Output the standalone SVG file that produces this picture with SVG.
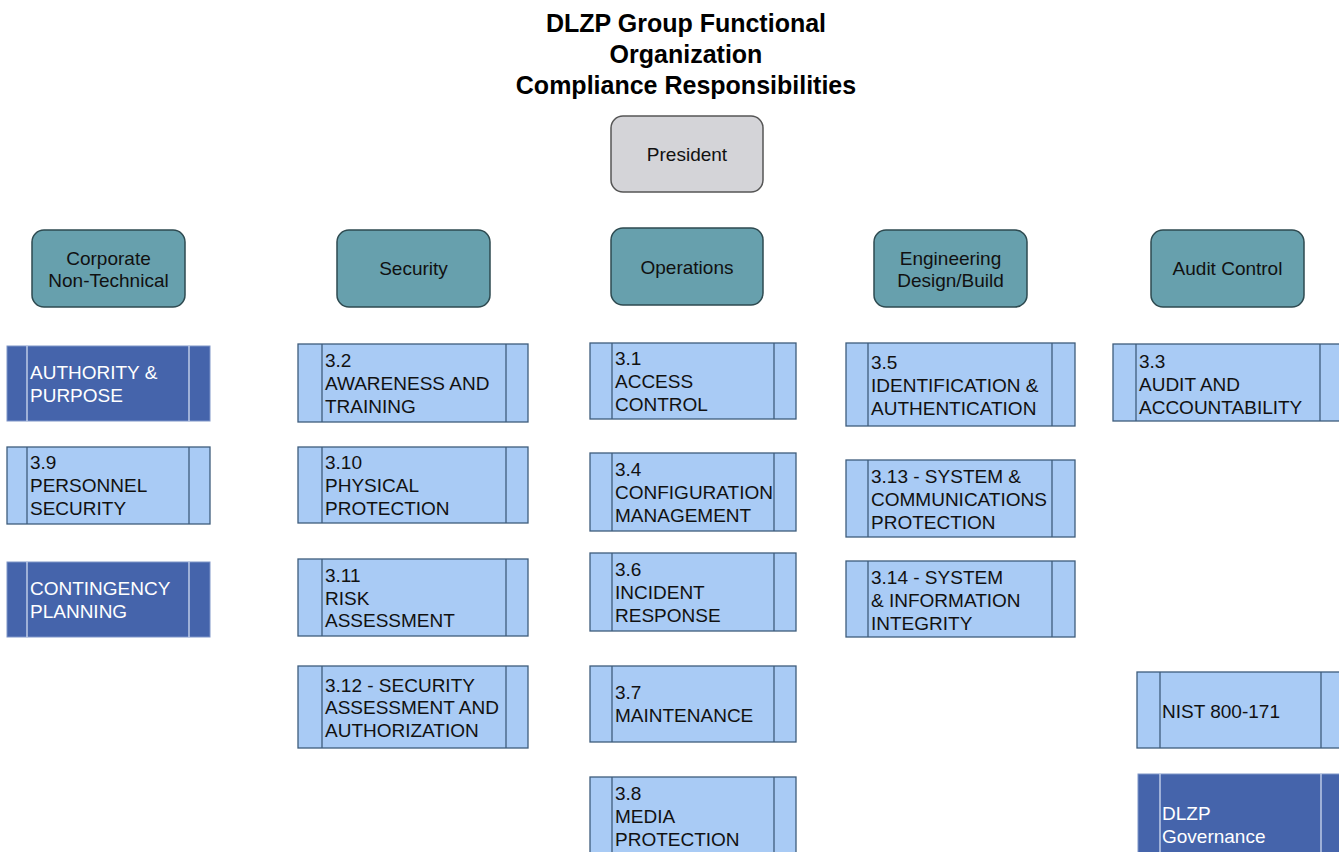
<svg xmlns="http://www.w3.org/2000/svg" width="1339" height="852" viewBox="0 0 1339 852">
<style>
text{font-family:"Liberation Sans",Arial,Helvetica,sans-serif;font-size:19px;fill:#111;}
.title{font-size:25px;font-weight:bold;text-anchor:middle;fill:#000;}
.hdr{fill:#67A0AD;stroke:#2E4A50;stroke-width:1.5;}
.pres{fill:#D4D4D8;stroke:#555;stroke-width:1.5;}
.c{text-anchor:middle;}
.lb{fill:#A9CBF5;stroke:#3E5C7C;stroke-width:1.3;}
.lbl{stroke:#3E5C7C;stroke-width:1.3;}
.db{fill:#4564AB;stroke:#7F95C8;stroke-width:1;}
.dbl{stroke:#D0DAF0;stroke-width:1.3;}
.w{fill:#fff;}
</style>
<rect width="1339" height="852" fill="#fff"/>
<g id="title">
<text class="title" x="686" y="32">DLZP Group Functional</text>
<text class="title" x="686" y="63">Organization</text>
<text class="title" x="686" y="94">Compliance Responsibilities</text>
</g>
<g id="connectors"></g>
<g id="president">
<rect class="pres" x="611" y="116" width="152" height="76" rx="12"/>
<text class="c" x="687" y="161">President</text>
</g>
<g id="corporate">
<rect class="hdr" x="32" y="230" width="153" height="77" rx="12"/>
<text class="c" x="108.5" y="265">Corporate</text>
<text class="c" x="108.5" y="287">Non-Technical</text>
</g>
<g id="security">
<rect class="hdr" x="337" y="230" width="153" height="77" rx="12"/>
<text class="c" x="413.5" y="275">Security</text>
</g>
<g id="operations">
<rect class="hdr" x="611" y="228" width="152" height="77" rx="12"/>
<text class="c" x="687" y="274">Operations</text>
</g>
<g id="engineering">
<rect class="hdr" x="874" y="230" width="153" height="77" rx="12"/>
<text class="c" x="950.5" y="265">Engineering</text>
<text class="c" x="950.5" y="287">Design/Build</text>
</g>
<g id="audit">
<rect class="hdr" x="1151" y="230" width="153" height="77" rx="12"/>
<text class="c" x="1227.5" y="275">Audit Control</text>
</g>

<!-- Corporate column -->
<g id="authority">
<rect class="db" x="7" y="346" width="203" height="75"/>
<line class="dbl" x1="27" y1="346" x2="27" y2="421"/><line class="dbl" x1="189" y1="346" x2="189" y2="421"/>
<text class="w" x="30" y="379">AUTHORITY &amp;</text>
<text class="w" x="30" y="402">PURPOSE</text>
</g>
<g id="n3-9">
<rect class="lb" x="7" y="447" width="203" height="77"/>
<line class="lbl" x1="27" y1="447" x2="27" y2="524"/><line class="lbl" x1="189" y1="447" x2="189" y2="524"/>
<text x="30" y="469">3.9</text>
<text x="30" y="492">PERSONNEL</text>
<text x="30" y="515">SECURITY</text>
</g>
<g id="contingency">
<rect class="db" x="7" y="562" width="203" height="75"/>
<line class="dbl" x1="27" y1="562" x2="27" y2="637"/><line class="dbl" x1="189" y1="562" x2="189" y2="637"/>
<text class="w" x="30" y="595">CONTINGENCY</text>
<text class="w" x="30" y="618">PLANNING</text>
</g>

<!-- Security column -->
<g id="n3-2">
<rect class="lb" x="298" y="344" width="230" height="78"/>
<line class="lbl" x1="322" y1="344" x2="322" y2="422"/><line class="lbl" x1="506" y1="344" x2="506" y2="422"/>
<text x="325" y="367">3.2</text>
<text x="325" y="390">AWARENESS AND</text>
<text x="325" y="413">TRAINING</text>
</g>
<g id="n3-10">
<rect class="lb" x="298" y="447" width="230" height="76"/>
<line class="lbl" x1="322" y1="447" x2="322" y2="523"/><line class="lbl" x1="506" y1="447" x2="506" y2="523"/>
<text x="325" y="469">3.10</text>
<text x="325" y="492">PHYSICAL</text>
<text x="325" y="515">PROTECTION</text>
</g>
<g id="n3-11">
<rect class="lb" x="298" y="559" width="230" height="77"/>
<line class="lbl" x1="322" y1="559" x2="322" y2="636"/><line class="lbl" x1="506" y1="559" x2="506" y2="636"/>
<text x="325" y="582">3.11</text>
<text x="325" y="605">RISK</text>
<text x="325" y="627">ASSESSMENT</text>
</g>
<g id="n3-12">
<rect class="lb" x="298" y="666" width="230" height="82"/>
<line class="lbl" x1="322" y1="666" x2="322" y2="748"/><line class="lbl" x1="506" y1="666" x2="506" y2="748"/>
<text x="325" y="692">3.12 - SECURITY</text>
<text x="325" y="714">ASSESSMENT AND</text>
<text x="325" y="737">AUTHORIZATION</text>
</g>

<!-- Operations column -->
<g id="n3-1">
<rect class="lb" x="590" y="343" width="206" height="76"/>
<line class="lbl" x1="612" y1="343" x2="612" y2="419"/><line class="lbl" x1="774" y1="343" x2="774" y2="419"/>
<text x="615" y="365">3.1</text>
<text x="615" y="388">ACCESS</text>
<text x="615" y="411">CONTROL</text>
</g>
<g id="n3-4">
<rect class="lb" x="590" y="453" width="206" height="78"/>
<line class="lbl" x1="612" y1="453" x2="612" y2="531"/><line class="lbl" x1="774" y1="453" x2="774" y2="531"/>
<text x="615" y="476">3.4</text>
<text x="615" y="499">CONFIGURATION</text>
<text x="615" y="522">MANAGEMENT</text>
</g>
<g id="n3-6">
<rect class="lb" x="590" y="553" width="206" height="78"/>
<line class="lbl" x1="612" y1="553" x2="612" y2="631"/><line class="lbl" x1="774" y1="553" x2="774" y2="631"/>
<text x="615" y="576">3.6</text>
<text x="615" y="599">INCIDENT</text>
<text x="615" y="622">RESPONSE</text>
</g>
<g id="n3-7">
<rect class="lb" x="590" y="666" width="206" height="76"/>
<line class="lbl" x1="612" y1="666" x2="612" y2="742"/><line class="lbl" x1="774" y1="666" x2="774" y2="742"/>
<text x="615" y="699">3.7</text>
<text x="615" y="722">MAINTENANCE</text>
</g>
<g id="n3-8">
<rect class="lb" x="590" y="777" width="206" height="78"/>
<line class="lbl" x1="612" y1="777" x2="612" y2="855"/><line class="lbl" x1="774" y1="777" x2="774" y2="855"/>
<text x="615" y="800">3.8</text>
<text x="615" y="823">MEDIA</text>
<text x="615" y="846">PROTECTION</text>
</g>

<!-- Engineering column -->
<g id="n3-5">
<rect class="lb" x="846" y="343" width="229" height="83"/>
<line class="lbl" x1="868" y1="343" x2="868" y2="426"/><line class="lbl" x1="1052" y1="343" x2="1052" y2="426"/>
<text x="871" y="369">3.5</text>
<text x="871" y="392">IDENTIFICATION &amp;</text>
<text x="871" y="415">AUTHENTICATION</text>
</g>
<g id="n3-13">
<rect class="lb" x="846" y="460" width="229" height="77"/>
<line class="lbl" x1="868" y1="460" x2="868" y2="537"/><line class="lbl" x1="1052" y1="460" x2="1052" y2="537"/>
<text x="871" y="483">3.13 - SYSTEM &amp;</text>
<text x="871" y="506">COMMUNICATIONS</text>
<text x="871" y="529">PROTECTION</text>
</g>
<g id="n3-14">
<rect class="lb" x="846" y="561" width="229" height="76"/>
<line class="lbl" x1="868" y1="561" x2="868" y2="637"/><line class="lbl" x1="1052" y1="561" x2="1052" y2="637"/>
<text x="871" y="584">3.14 - SYSTEM</text>
<text x="871" y="607">&amp; INFORMATION</text>
<text x="871" y="630">INTEGRITY</text>
</g>

<!-- Audit column -->
<g id="n3-3">
<rect class="lb" x="1113" y="344" width="230" height="77"/>
<line class="lbl" x1="1136" y1="344" x2="1136" y2="421"/><line class="lbl" x1="1320" y1="344" x2="1320" y2="421"/>
<text x="1139" y="368">3.3</text>
<text x="1139" y="391">AUDIT AND</text>
<text x="1139" y="414">ACCOUNTABILITY</text>
</g>
<g id="nist">
<rect class="lb" x="1137" y="672" width="207" height="76"/>
<line class="lbl" x1="1160" y1="672" x2="1160" y2="748"/><line class="lbl" x1="1321" y1="672" x2="1321" y2="748"/>
<text x="1162" y="718">NIST 800-171</text>
</g>
<g id="governance">
<rect class="db" x="1138" y="774" width="206" height="90"/>
<line class="dbl" x1="1160" y1="774" x2="1160" y2="864"/><line class="dbl" x1="1321" y1="774" x2="1321" y2="864"/>
<text class="w" x="1162" y="820">DLZP</text>
<text class="w" x="1162" y="843">Governance</text>
</g>
</svg>
